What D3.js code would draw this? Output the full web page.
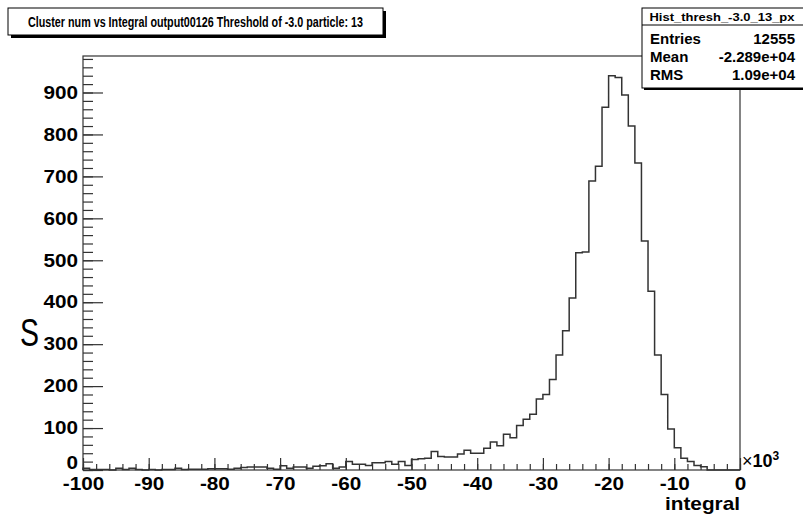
<!DOCTYPE html>
<html>
<head>
<meta charset="utf-8">
<script src="https://cdn.jsdelivr.net/npm/d3@7"></script>
<style>
  html, body { margin: 0; padding: 0; background: #fff; }
  text { font-family: "Liberation Sans", Arial, Helvetica, sans-serif; }
</style>
</head>
<body>
<div id="chart"></div>
<script>
// histogram: 100 bins of width 1 (x10^3) from -100 to 0
const binStart = -100;
const binWidth = 1;
const counts = [
  4, 1, 1, 1, 0, 4, 1, 4, 1, 0,
  1, 0, 1, 1, 4, 1, 2, 2, 2, 3,
  3, 3, 2, 4, 6, 7, 7, 7, 4, 2,
  10, 4, 7, 7, 4, 9, 10, 15, 4, 7,
  20, 14, 14, 11, 17, 17, 20, 14, 20, 11,
  25, 27, 28, 44, 32, 31, 31, 38, 47, 40,
  40, 52, 67, 58, 85, 77, 106, 121, 133, 169,
  180, 216, 274, 332, 410, 518, 520, 689, 724, 865,
  940, 936, 894, 820, 732, 546, 426, 274, 180, 98,
  53, 28, 20, 11, 8, 0, 0, 0, 0, 0
];

const xMajorTicks = [-100, -90, -80, -70, -60, -50, -40, -30, -20, -10, 0];
const yMajorTicks = [0, 100, 200, 300, 400, 500, 600, 700, 800, 900];

const titleText = "Cluster num vs Integral output00126 Threshold of -3.0 particle: 13";
const statsName = "Hist_thresh_-3.0_13_px";
const statsRows = [
  ["Entries", "12555"],
  ["Mean", "-2.289e+04"],
  ["RMS", "1.09e+04"]
];
const xTitle = "integral";

const width = 803;
const height = 516;
const frame = { left: 83, right: 740, top: 56, bottom: 470 };
const lineColor = "#333";

const svg = d3.select("#chart")
  .append("svg")
  .attr("width", width)
  .attr("height", height);

const x = d3.scaleLinear()
  .domain([binStart, binStart + counts.length * binWidth])
  .range([frame.left, frame.right]);

const y = d3.scaleLinear()
  .domain([0, d3.max(counts) * 1.05])
  .range([frame.bottom, frame.top]);

// frame
svg.append("rect")
  .attr("x", frame.left)
  .attr("y", frame.top)
  .attr("width", frame.right - frame.left)
  .attr("height", frame.bottom - frame.top)
  .attr("fill", "none")
  .attr("stroke", lineColor)
  .attr("stroke-width", 1.2);

// minor + major ticks point into the frame (ROOT style)
const xMinor = svg.append("g")
  .attr("transform", `translate(0,${frame.bottom})`)
  .call(d3.axisBottom(x).tickValues(d3.range(-100, 1, 2)).tickSize(-6).tickFormat(""));

const xMajor = svg.append("g")
  .attr("transform", `translate(0,${frame.bottom})`)
  .call(d3.axisBottom(x).tickValues(xMajorTicks).tickSize(-12).tickPadding(7).tickFormat((d) => String(d)));

const yMinor = svg.append("g")
  .attr("transform", `translate(${frame.left},0)`)
  .call(d3.axisLeft(y).tickValues(d3.range(0, 981, 20)).tickSize(-10).tickFormat(""));

const yMajor = svg.append("g")
  .attr("transform", `translate(${frame.left},0)`)
  .call(d3.axisLeft(y).tickValues(yMajorTicks).tickSize(-20).tickPadding(5).tickFormat((d) => String(d)));

[xMinor, xMajor, yMinor, yMajor].forEach((g) => {
  g.select(".domain").remove();
  g.selectAll(".tick line").attr("stroke", lineColor).attr("stroke-width", 1.2);
  g.selectAll(".tick text")
    .attr("fill", "#000")
    .style("font-size", "18px")
    .style("font-weight", "bold")
    .style("font-family", "'Liberation Sans', Arial, sans-serif")
    .each(function () {
      // labels are drawn a bit wider than the plain font
      const w = this.getComputedTextLength();
      d3.select(this)
        .attr("textLength", w * 1.15)
        .attr("lengthAdjust", "spacingAndGlyphs");
    });
});

// keep the "0" count label just above the first x label
yMajor.selectAll(".tick text").filter((d) => d === 0).attr("dy", "-0.1em");

// the step outline of the histogram
const pts = [[binStart, 0]];
counts.forEach((c, i) => pts.push([binStart + i * binWidth, c]));
pts.push([binStart + counts.length * binWidth, counts[counts.length - 1]]);
pts.push([binStart + counts.length * binWidth, 0]);

svg.append("path")
  .attr("d", d3.line()
    .x((d) => x(d[0]))
    .y((d) => y(d[1]))
    .curve(d3.curveStepAfter)(pts))
  .attr("fill", "none")
  .attr("stroke", lineColor)
  .attr("stroke-width", 1.5);

// axis exponent and title
const expo = svg.append("text")
  .attr("x", frame.right + 2)
  .attr("y", 467)
  .style("font-size", "18px");
expo.append("tspan").text("\u00d7");
expo.append("tspan").style("font-weight", "bold").text("10");
expo.append("tspan").style("font-weight", "bold").style("font-size", "12px")
  .attr("dy", -7).text("3");

svg.append("text")
  .attr("x", frame.right)
  .attr("y", 510)
  .attr("text-anchor", "end")
  .attr("textLength", 75)
  .attr("lengthAdjust", "spacingAndGlyphs")
  .style("font-size", "19px")
  .style("font-weight", "bold")
  .text(xTitle);

// stray y title fragment on the left
svg.append("text")
  .attr("x", 20)
  .attr("y", 346)
  .attr("textLength", 19)
  .attr("lengthAdjust", "spacingAndGlyphs")
  .style("font-family", "'Liberation Sans', sans-serif")
  .style("font-size", "38px")
  .text("S");

// title box with drop shadow
const tb = { x: 8, y: 8, w: 375, h: 27 };
svg.append("rect")
  .attr("x", tb.x + 3).attr("y", tb.y + 3)
  .attr("width", tb.w).attr("height", tb.h)
  .attr("fill", "#000");
svg.append("rect")
  .attr("x", tb.x).attr("y", tb.y)
  .attr("width", tb.w).attr("height", tb.h)
  .attr("fill", "#fff")
  .attr("stroke", "#000")
  .attr("stroke-width", 1);
svg.append("text")
  .attr("x", tb.x + tb.w / 2)
  .attr("y", tb.y + tb.h / 2 + 5.5)
  .attr("text-anchor", "middle")
  .attr("textLength", 335)
  .attr("lengthAdjust", "spacingAndGlyphs")
  .style("font-size", "15px")
  .style("font-weight", "bold")
  .text(titleText);

// stats box
const sb = { x: 642, y: 8, w: 170, h: 80 };
svg.append("rect")
  .attr("x", sb.x + 2).attr("y", sb.y + 2)
  .attr("width", sb.w).attr("height", sb.h)
  .attr("fill", "#000");
svg.append("rect")
  .attr("x", sb.x).attr("y", sb.y)
  .attr("width", sb.w).attr("height", sb.h)
  .attr("fill", "#fff")
  .attr("stroke", "#000")
  .attr("stroke-width", 1);
svg.append("line")
  .attr("x1", sb.x).attr("x2", sb.x + sb.w)
  .attr("y1", 25).attr("y2", 25)
  .attr("stroke", "#000");
svg.append("text")
  .attr("x", 722)
  .attr("y", 20.5)
  .attr("text-anchor", "middle")
  .attr("textLength", 145)
  .attr("lengthAdjust", "spacingAndGlyphs")
  .style("font-size", "11px")
  .style("font-weight", "bold")
  .text(statsName);

statsRows.forEach((r, i) => {
  const base = 44 + i * 18;
  svg.append("text")
    .attr("x", 650)
    .attr("y", base)
    .style("font-size", "15px")
    .style("font-weight", "bold")
    .text(r[0]);
  svg.append("text")
    .attr("x", 795)
    .attr("y", base)
    .attr("text-anchor", "end")
    .style("font-size", "15px")
    .style("font-weight", "bold")
    .text(r[1]);
});
</script>
</body>
</html>
